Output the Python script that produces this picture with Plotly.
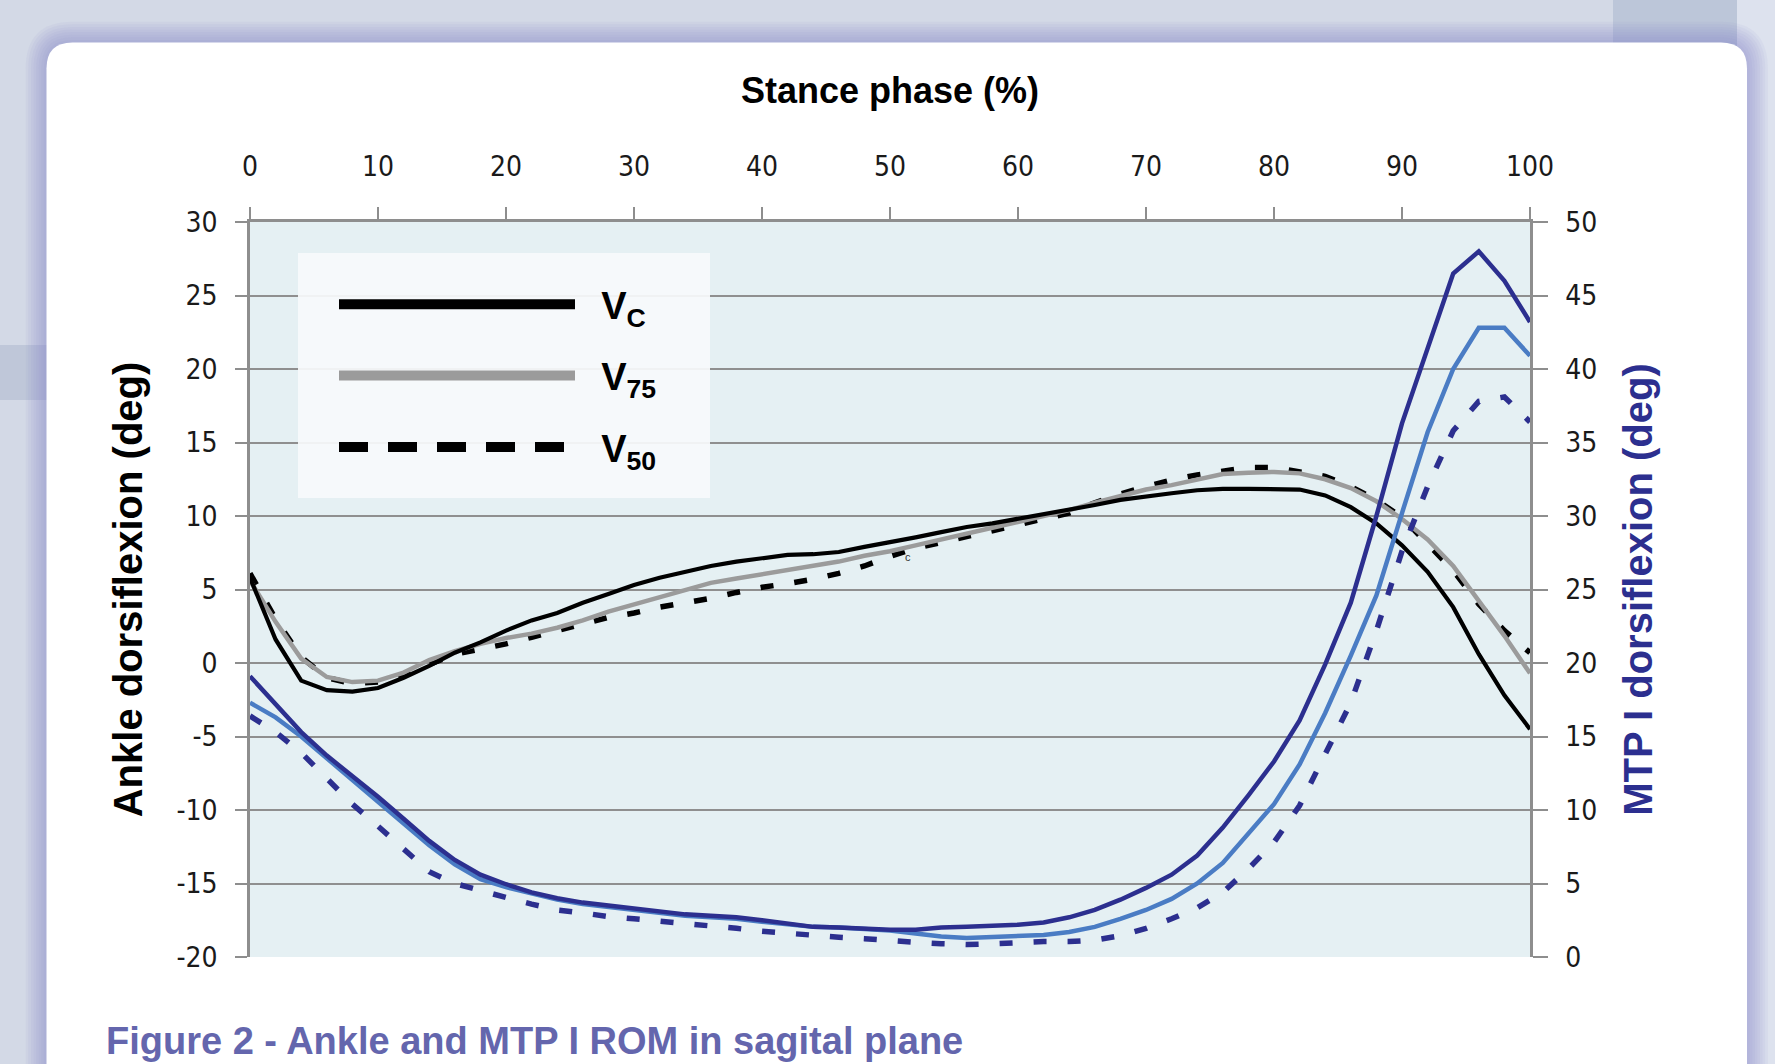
import plotly.graph_objects as go

# ---------------- data ----------------
stance_pct = list(range(0, 101, 2))

ankle_vc = [5.8, 1.6, -1.2, -1.85, -1.95, -1.7, -1.0, -0.2, 0.7, 1.4,
            2.2, 2.9, 3.4, 4.1, 4.7, 5.3, 5.8, 6.2, 6.6, 6.9,
            7.15, 7.35, 7.4, 7.55, 7.9, 8.2, 8.55, 8.9, 9.25, 9.5,
            9.8, 10.1, 10.4, 10.75, 11.1, 11.35, 11.55, 11.75, 11.85, 11.85,
            11.85, 11.8, 11.4, 10.6, 9.5, 8.0, 6.2, 3.8, 0.6, -2.2,
            -4.5]
ankle_v75 = [5.6, 2.8, 0.3, -0.95, -1.3, -1.2, -0.65, 0.2, 0.8, 1.3,
             1.7, 2.0, 2.4, 2.9, 3.5, 4.0, 4.5, 5.0, 5.45, 5.75,
             6.05, 6.3, 6.6, 6.9, 7.3, 7.6, 8.0, 8.4, 8.85, 9.2,
             9.65, 10.0, 10.4, 10.9, 11.35, 11.8, 12.1, 12.45, 12.85, 12.95,
             13.0, 12.9, 12.5, 11.9, 11.0, 9.8, 8.4, 6.6, 4.25, 1.85,
             -0.7]
ankle_v50 = [6.1, 3.0, 0.4, -1.0, -1.4, -1.3, -0.8, -0.1, 0.6, 0.95,
             1.3, 1.75, 2.2, 2.6, 3.1, 3.4, 3.8, 4.1, 4.4, 4.8,
             5.15, 5.4, 5.7, 6.1, 6.6, 7.25, 7.8, 8.2, 8.6, 8.95,
             9.4, 9.8, 10.2, 10.9, 11.5, 12.0, 12.45, 12.8, 13.05, 13.3,
             13.3, 13.0, 12.7, 12.0, 11.1, 9.9, 8.1, 6.3, 4.0, 2.2,
             0.7]

mtp_vc = [19.1, 17.2, 15.3, 13.7, 12.3, 10.9, 9.4, 7.9, 6.6, 5.6,
          4.95, 4.4, 4.0, 3.7, 3.5, 3.3, 3.1, 2.9, 2.8, 2.7,
          2.5, 2.3, 2.05, 2.0, 1.9, 1.85, 1.85, 2.0, 2.05, 2.1,
          2.2, 2.35, 2.7, 3.2, 3.9, 4.7, 5.6, 6.9, 8.8, 11.0,
          13.3, 16.1, 19.9, 24.1, 30.0, 36.3, 41.5, 46.5, 48.0, 46.0,
          43.2]
mtp_v75 = [17.3, 16.3, 15.0, 13.5, 12.0, 10.6, 9.1, 7.6, 6.3, 5.3,
           4.75, 4.3, 3.9, 3.6, 3.4, 3.2, 3.0, 2.8, 2.7, 2.6,
           2.4, 2.25, 2.05, 2.0, 1.9, 1.8, 1.6, 1.4, 1.3, 1.35,
           1.4, 1.5, 1.7, 2.05, 2.6, 3.2, 3.95, 5.0, 6.4, 8.4,
           10.4, 13.1, 16.6, 20.5, 24.6, 30.2, 35.7, 40.0, 42.8, 42.8,
           40.9]
mtp_v50 = [16.4, 15.3, 13.9, 12.1, 10.4, 8.9, 7.3, 5.8, 5.0, 4.5,
           4.05, 3.6, 3.2, 3.0, 2.75, 2.6, 2.45, 2.3, 2.1, 1.95,
           1.75, 1.6, 1.45, 1.35, 1.25, 1.1, 1.0, 0.9, 0.85, 0.9,
           1.0, 1.05, 1.05, 1.15, 1.45, 1.95, 2.6, 3.35, 4.4, 6.0,
           7.8, 10.3, 13.8, 17.3, 22.2, 27.6, 32.0, 35.8, 37.8, 38.1,
           36.4]

x_ticks = [0, 10, 20, 30, 40, 50, 60, 70, 80, 90, 100]
x_tick_labels = ["0", "10", "20", "30", "40", "50", "60", "70", "80", "90", "100"]
ankle_ticks = [-20, -15, -10, -5, 0, 5, 10, 15, 20, 25, 30]
ankle_tick_labels = ["-20", "-15", "-10", "-5", "0", "5", "10", "15", "20", "25", "30"]
ankle_grid = [-15, -10, -5, 0, 5, 10, 15, 20, 25]
mtp_ticks = [0, 5, 10, 15, 20, 25, 30, 35, 40, 45, 50]
mtp_tick_labels = ["0", "5", "10", "15", "20", "25", "30", "35", "40", "45", "50"]
legend_names = ["V<sub>C</sub>", "V<sub>75</sub>", "V<sub>50</sub>"]

# ---------------- layout geometry (pixels) ----------------
W, H = 1775, 1064
PL, PR, PT, PB = 250, 1530, 222, 957


def fx(px):
    return (px - PL) / (PR - PL)


def fy(py):
    return (PB - py) / (PB - PT)


def rrect_path(x0, y0, x1, y1, r):
    pts = [
        ("M", [(x0 + r, y0)]), ("L", [(x1 - r, y0)]), ("Q", [(x1, y0), (x1, y0 + r)]),
        ("L", [(x1, y1 - r)]), ("Q", [(x1, y1), (x1 - r, y1)]),
        ("L", [(x0 + r, y1)]), ("Q", [(x0, y1), (x0, y1 - r)]),
        ("L", [(x0, y0 + r)]), ("Q", [(x0, y0), (x0 + r, y0)]),
    ]
    s = ""
    for cmd, ps in pts:
        s += cmd + " ".join(f"{fx(a):.5f},{fy(b):.5f}" for a, b in ps) + " "
    return s + "Z"


BLACK = "#000000"
GREY = "#9b9b9b"
NAVY = "#2c2f8f"
LIGHTBLUE = "#4a7cc4"
AXIS = "#8e8e8e"

fig = go.Figure()

# ankle (left axis)
fig.add_trace(go.Scatter(x=stance_pct, y=ankle_v50, mode="lines", name="Ankle V50",
                         line=dict(color=BLACK, width=5.5, dash="13px,21px"), showlegend=False))
fig.add_trace(go.Scatter(x=stance_pct, y=ankle_v75, mode="lines", name="Ankle V75",
                         line=dict(color=GREY, width=4.5), showlegend=False))
fig.add_trace(go.Scatter(x=stance_pct, y=ankle_vc, mode="lines", name="Ankle Vc",
                         line=dict(color=BLACK, width=4.2), showlegend=False))
# MTP I (right axis)
fig.add_trace(go.Scatter(x=stance_pct, y=mtp_v50, mode="lines", name="MTP V50", yaxis="y2",
                         line=dict(color=NAVY, width=5.5, dash="13px,21px"), showlegend=False))
fig.add_trace(go.Scatter(x=stance_pct, y=mtp_v75, mode="lines", name="MTP V75", yaxis="y2",
                         line=dict(color=LIGHTBLUE, width=4.5), showlegend=False))
fig.add_trace(go.Scatter(x=stance_pct, y=mtp_vc, mode="lines", name="MTP Vc", yaxis="y2",
                         line=dict(color=NAVY, width=4.5), showlegend=False))

# legend entries
legend_styles = [dict(color=BLACK, width=10), dict(color=GREY, width=10),
                 dict(color=BLACK, width=10, dash="29px,20px")]
for name, st, grp in zip(legend_names, legend_styles, ["g1", "g2", "g3"]):
    fig.add_trace(go.Scatter(x=[None], y=[None], mode="lines", name="  <b>" + name + "</b>",
                             line=st, legendgroup=grp, showlegend=True))

shapes = []
# background blocks
shapes.append(dict(type="rect", xref="paper", yref="paper", x0=fx(1613), x1=fx(1737), y0=fy(0), y1=fy(60),
                   fillcolor="#bcc6d9", line=dict(width=0), layer="below"))
shapes.append(dict(type="rect", xref="paper", yref="paper", x0=fx(1737), x1=fx(1775), y0=fy(0), y1=fy(1064),
                   fillcolor="#dde2ee", line=dict(width=0), layer="below"))
shapes.append(dict(type="rect", xref="paper", yref="paper", x0=fx(0), x1=fx(60), y0=fy(345), y1=fy(400),
                   fillcolor="#bfc7d9", line=dict(width=0), layer="below"))
# card shadow
for i in range(8, 0, -1):
    d = 2.6 * i
    shapes.append(dict(type="path", xref="paper", yref="paper",
                       path=rrect_path(46.5 - d, 42.5 - d, 1747 + d, 1120 + d, 26 + d),
                       fillcolor="rgba(128,132,196,0.075)", line=dict(width=0), layer="below"))
# white card
shapes.append(dict(type="path", xref="paper", yref="paper",
                   path=rrect_path(46.5, 42.5, 1747, 1120, 26),
                   fillcolor="#ffffff", line=dict(width=0), layer="below"))
# plot background
shapes.append(dict(type="rect", xref="paper", yref="paper", x0=0, x1=1, y0=0, y1=1,
                   fillcolor="#e5f0f3", line=dict(width=0), layer="below"))
# legend box
shapes.append(dict(type="rect", xref="paper", yref="paper", x0=fx(298), x1=fx(710), y0=fy(498), y1=fy(253),
                   fillcolor="rgba(247,250,251,0.93)", line=dict(width=0), layer="above"))

tick_font = dict(family="DejaVu Sans Condensed, DejaVu Sans", size=28, color="#1a1a1a")

fig.update_layout(
    width=W, height=H,
    margin=dict(l=PL, r=W - PR, t=PT, b=H - PB, pad=0),
    paper_bgcolor="#d3d9e6",
    plot_bgcolor="rgba(0,0,0,0)",
    shapes=shapes,
    showlegend=True,
    legend=dict(x=fx(334), y=fy(273), xanchor="left", yanchor="top",
                bgcolor="rgba(0,0,0,0)", borderwidth=0,
                font=dict(family="Liberation Sans, Arial", size=38, color="#000000"),
                itemwidth=236, tracegroupgap=19, traceorder="grouped",
                itemclick=False, itemdoubleclick=False),
    xaxis=dict(range=[0, 100], side="top", tickmode="array", tickvals=x_ticks, ticktext=x_tick_labels,
               ticks="outside", ticklen=12, tickwidth=2, tickcolor=AXIS,
               showline=True, linecolor=AXIS, linewidth=2.5, showgrid=False, zeroline=False,
               tickfont=tick_font, ticklabelstandoff=20,
               title=dict(text="<b>Stance phase (%)</b>", standoff=36,
                          font=dict(family="Liberation Sans, Arial", size=36, color="#000"))),
    yaxis=dict(range=[-20, 30], tickmode="array", tickvals=ankle_ticks, ticktext=ankle_tick_labels,
               ticks="outside", ticklen=12, tickwidth=2, tickcolor=AXIS,
               showline=True, linecolor=AXIS, linewidth=2.5, showgrid=False, zeroline=False,
               minor=dict(tickmode="array", tickvals=ankle_grid, showgrid=True,
                          gridcolor="#8f8f8f", gridwidth=2, ticks=""),
               tickfont=tick_font, ticklabelstandoff=12,
               title=dict(text="<b>Ankle dorsiflexion (deg)</b>", standoff=22,
                          font=dict(family="Liberation Sans, Arial", size=40, color="#000"))),
    yaxis2=dict(range=[0, 50], overlaying="y", side="right", tickmode="array", tickvals=mtp_ticks,
                ticktext=mtp_tick_labels, ticks="outside", ticklen=15, tickwidth=2, tickcolor=AXIS,
                showline=True, linecolor=AXIS, linewidth=2.5, showgrid=False, zeroline=False,
                tickfont=tick_font, ticklabelstandoff=12,
                title=dict(text="<b>MTP I dorsiflexion (deg)</b>", standoff=28,
                           font=dict(family="Liberation Sans, Arial", size=40, color=NAVY))),
    annotations=[
        dict(text="<b>Figure 2 - Ankle and MTP I ROM in sagital plane</b>", xref="paper", yref="paper",
             x=fx(104), y=fy(1041), xanchor="left", yanchor="middle", showarrow=False,
             font=dict(family="Liberation Sans, Arial", size=38, color="#6466ad")),
        dict(text="c", xref="x", yref="y", x=51.4, y=7.2, showarrow=False,
             font=dict(family="Liberation Sans, Arial", size=11, color="#333")),
    ],
)

fig.write_html("out.html", config={"displayModeBar": False},
               post_script="document.body.style.margin='0';")
